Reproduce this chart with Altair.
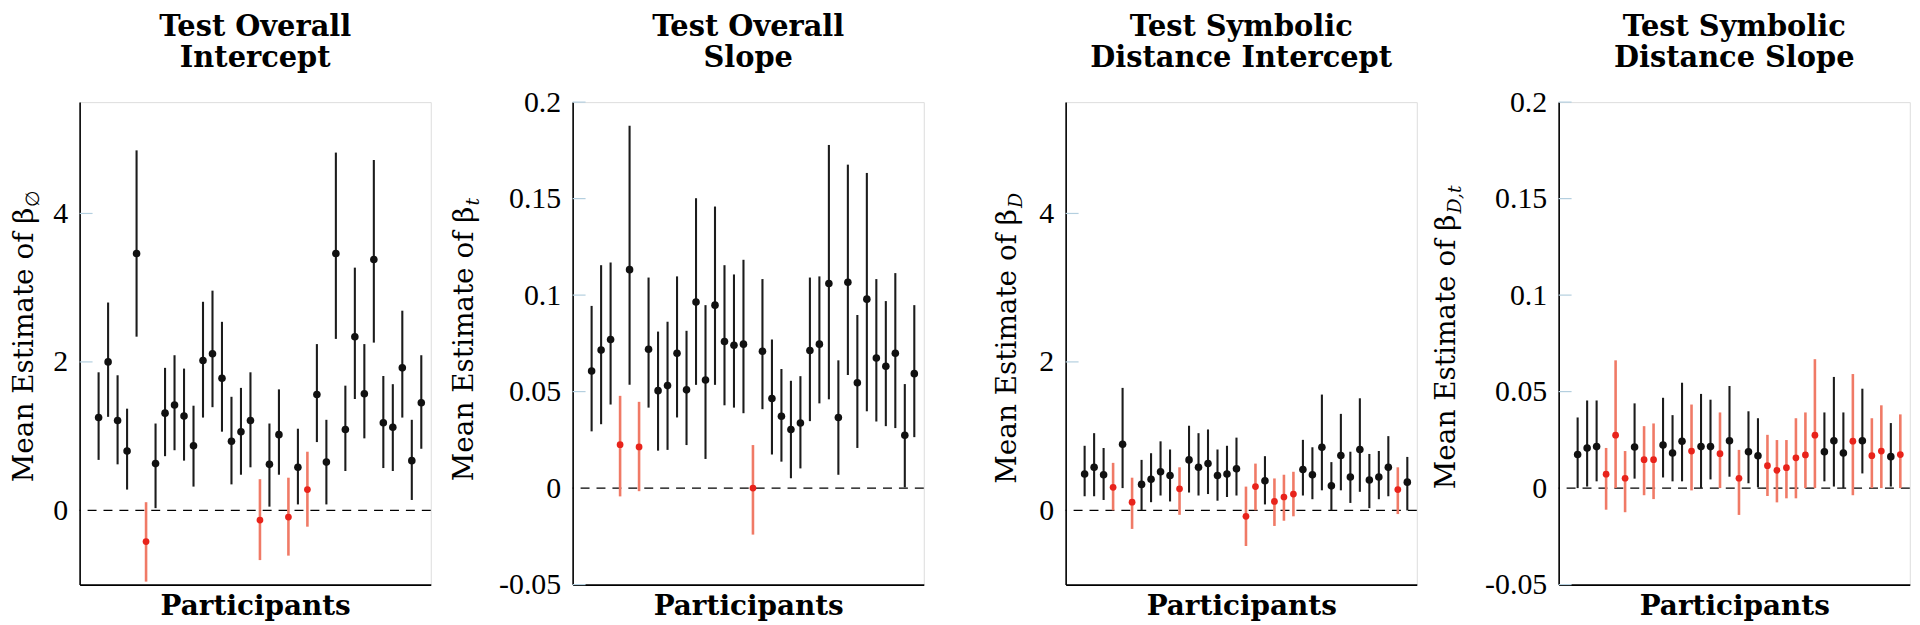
import altair as alt
import pandas as pd

participants = list(range(1, 36))

# Panel 1: Test Overall Intercept
p1_mean = [1.25, 2.00, 1.21, 0.80, 3.46, -0.42, 0.63, 1.31, 1.42, 1.27, 0.87, 2.02, 2.11, 1.78, 0.93, 1.06, 1.21, -0.13,
           0.62, 1.02, -0.09, 0.58, 0.28, 1.56, 0.65, 3.46, 1.09, 2.34, 1.57, 3.38, 1.18, 1.12, 1.92, 0.67, 1.45]
p1_lo = [0.68, 1.26, 0.62, 0.28, 2.34, -0.96, 0.03, 0.73, 0.81, 0.67, 0.32, 1.25, 1.39, 1.06, 0.35, 0.48, 0.58, -0.67,
         0.05, 0.48, -0.61, 0.08, -0.22, 0.92, 0.08, 2.31, 0.53, 1.50, 0.97, 2.26, 0.57, 0.53, 1.25, 0.14, 0.83]
p1_hi = [1.86, 2.80, 1.82, 1.37, 4.85, 0.11, 1.17, 1.92, 2.09, 1.91, 1.41, 2.81, 2.96, 2.54, 1.53, 1.65, 1.86, 0.42,
         1.17, 1.63, 0.44, 1.10, 0.79, 2.24, 1.22, 4.82, 1.68, 3.27, 2.24, 4.72, 1.81, 1.70, 2.69, 1.22, 2.09]
p1_red = [6, 18, 21, 23]

# Panel 2: Test Overall Slope
p2_mean = [0.0607, 0.0715, 0.0770, 0.0225, 0.1132, 0.0213, 0.0719, 0.0505, 0.0531, 0.0699, 0.0509, 0.0964, 0.0560,
           0.0948, 0.0760, 0.0740, 0.0746, 0.0000, 0.0709, 0.0464, 0.0372, 0.0304, 0.0337, 0.0713, 0.0746, 0.1060,
           0.0366, 0.1067, 0.0546, 0.0979, 0.0674, 0.0631, 0.0699, 0.0274, 0.0593]
p2_lo = [0.0294, 0.0331, 0.0433, -0.0043, 0.0535, -0.0016, 0.0417, 0.0194, 0.0198, 0.0366, 0.0223, 0.0535, 0.0151,
         0.0535, 0.0429, 0.0417, 0.0388, -0.0241, 0.0409, 0.0174, 0.0137, 0.0051, 0.0102, 0.0347, 0.0439, 0.0460,
         0.0069, 0.0586, 0.0208, 0.0398, 0.0345, 0.0321, 0.0311, 0.0004, 0.0264]
p2_hi = [0.0944, 0.1155, 0.1169, 0.0478, 0.1878, 0.0447, 0.1091, 0.0811, 0.0862, 0.1097, 0.0815, 0.1502, 0.0948,
         0.1459, 0.1155, 0.1107, 0.1183, 0.0223, 0.1083, 0.0770, 0.0617, 0.0556, 0.0580, 0.1091, 0.1097, 0.1778,
         0.0662, 0.1676, 0.0897, 0.1633, 0.1083, 0.0969, 0.1114, 0.0539, 0.0948]
p2_red = [4, 6, 18]

# Panel 3: Test Symbolic Distance Intercept
p3_mean = [0.49, 0.58, 0.48, 0.31, 0.89, 0.11, 0.35, 0.42, 0.52, 0.47, 0.29, 0.68, 0.58, 0.63, 0.47, 0.49, 0.56, -0.08,
           0.32, 0.40, 0.12, 0.18, 0.22, 0.55, 0.48, 0.85, 0.33, 0.74, 0.45, 0.82, 0.41, 0.45, 0.58, 0.28, 0.38]
p3_lo = [0.19, 0.19, 0.14, 0.00, 0.30, -0.25, 0.00, 0.11, 0.20, 0.12, -0.06, 0.24, 0.20, 0.22, 0.13, 0.18, 0.20, -0.48,
         0.00, 0.08, -0.21, -0.14, -0.08, 0.20, 0.15, 0.27, 0.00, 0.27, 0.10, 0.25, 0.03, 0.15, 0.19, -0.05, 0.00]
p3_hi = [0.87, 1.04, 0.84, 0.64, 1.65, 0.44, 0.68, 0.77, 0.93, 0.82, 0.58, 1.14, 1.04, 1.09, 0.82, 0.87, 0.98, 0.32,
         0.63, 0.73, 0.43, 0.48, 0.52, 0.95, 0.85, 1.56, 0.65, 1.30, 0.79, 1.51, 0.76, 0.80, 1.00, 0.58, 0.72]
p3_red = [4, 6, 11, 18, 19, 21, 22, 23, 34]

# Panel 4: Test Symbolic Distance Slope
p4_mean = [0.0174, 0.0208, 0.0215, 0.0072, 0.0274, 0.0051, 0.0213, 0.0147, 0.0147, 0.0223, 0.0182, 0.0243, 0.0192,
           0.0215, 0.0215, 0.0178, 0.0245, 0.0051, 0.0188, 0.0168, 0.0116, 0.0092, 0.0106, 0.0157, 0.0172, 0.0274,
           0.0188, 0.0245, 0.0182, 0.0243, 0.0245, 0.0168, 0.0192, 0.0163, 0.0174]
p4_lo = [0.0000, 0.0008, 0.0035, -0.0112, 0.0000, -0.0125, 0.0049, -0.0037, -0.0057, 0.0055, 0.0035, 0.0035, -0.0012,
         0.0000, 0.0045, 0.0000, 0.0059, -0.0139, 0.0025, 0.0004, -0.0041, -0.0074, -0.0053, -0.0053, 0.0000, 0.0000,
         0.0035, 0.0008, 0.0000, -0.0037, 0.0076, 0.0000, 0.0000, 0.0008, 0.0000]
p4_hi = [0.0366, 0.0454, 0.0454, 0.0208, 0.0662, 0.0192, 0.0439, 0.0321, 0.0335, 0.0468, 0.0378, 0.0546, 0.0433,
         0.0488, 0.0458, 0.0392, 0.0529, 0.0198, 0.0398, 0.0362, 0.0276, 0.0249, 0.0249, 0.0362, 0.0392, 0.0668,
         0.0392, 0.0576, 0.0392, 0.0591, 0.0515, 0.0362, 0.0429, 0.0337, 0.0382]
p4_red = [4, 5, 6, 8, 9, 13, 16, 18, 21, 22, 23, 24, 25, 26, 30, 32, 33, 35]

titles = [["Test Overall", "Intercept"], ["Test Overall", "Slope"],
          ["Test Symbolic", "Distance Intercept"], ["Test Symbolic", "Distance Slope"]]
ylabel_main = "Mean Estimate of β"
ylabel_subs = ["∅", "t", "D", "D,t"]
x_title = "Participants"

ticks_big = [0, 2, 4]
ticks_small = [-0.05, 0, 0.05, 0.1, 0.15, 0.2]
dom_big = [-1, 5.5]
dom_small = [-0.05, 0.2]

W, H = 353, 485
SERIF = "Liberation Serif"
BOLD = "DejaVu Serif"


def panel(mean, lo, hi, red, dom, ticks, title, sub, label_x, sub_len):
    df = pd.DataFrame({"p": participants, "mean": mean, "lo": lo, "hi": hi,
                       "grp": ["red" if p in red else "black" for p in participants]})
    xscale = alt.Scale(domain=[-1, 36], nice=False, zero=False)
    yscale = alt.Scale(domain=dom, nice=False, zero=False)
    xaxis = alt.Axis(title=x_title, labels=False, ticks=False, grid=False, domainColor="black",
                     domainWidth=1.6, titleFont=BOLD, titleFontSize=28, titleFontWeight="bold",
                     titleColor="black", titlePadding=8)
    yaxis = alt.Axis(title="", values=ticks, grid=False, ticks=False, tickSize=0, labelPadding=12,
                     labelFont=SERIF, labelFontSize=30, labelColor="black",
                     labelExpr="'' + datum.value", domainColor="black", domainWidth=1.6)
    X = alt.X("p:Q", scale=xscale, axis=xaxis)

    bars = alt.Chart(df).mark_rule().encode(
        x=X,
        y=alt.Y("lo:Q", scale=yscale, axis=yaxis),
        y2="hi:Q",
        color=alt.condition("datum.grp == 'red'", alt.value("#f07a66"), alt.value("#1c1c1c")),
        strokeWidth=alt.condition("datum.grp == 'red'", alt.value(2.6), alt.value(2.1)),
    )
    dots = alt.Chart(df).mark_circle(opacity=1).encode(
        x=X,
        y=alt.Y("mean:Q", scale=yscale, axis=yaxis),
        color=alt.condition("datum.grp == 'red'", alt.value("#e8231b"), alt.value("#111111")),
        size=alt.condition("datum.grp == 'red'", alt.value(46), alt.value(58)),
    )
    tdf = pd.DataFrame({"v": [t for t in ticks if t != 0]})
    tickmarks = alt.Chart(tdf).mark_rule(color="#b4cfdf", strokeWidth=1.2).encode(
        y=alt.Y("v:Q", scale=yscale, axis=yaxis), x=alt.value(0), x2=alt.value(13))
    zero = alt.Chart(pd.DataFrame({"z": [0]})).mark_rule(
        color="black", strokeWidth=1.4, strokeDash=[9, 7]).encode(
        y=alt.Y("z:Q", scale=yscale, axis=yaxis))

    layers = [tickmarks, zero, bars, dots]
    # chart title (two lines)
    for i, line in enumerate(title):
        layers.append(alt.Chart(pd.DataFrame({"t": [line]})).mark_text(
            font=BOLD, fontSize=29, fontWeight="bold", color="black", align="center",
            baseline="alphabetic").encode(text="t:N", x=alt.value(W / 2), y=alt.value(-66 + 31 * i)))
    # y-axis label with subscript
    main_len = 283
    y0 = H / 2 - (main_len - sub_len) / 2
    layers.append(alt.Chart(pd.DataFrame({"t": [ylabel_main]})).mark_text(
        font="DejaVu Serif", fontSize=28, color="black", angle=270, align="right",
        baseline="alphabetic").encode(text="t:N", x=alt.value(label_x), y=alt.value(y0)))
    layers.append(alt.Chart(pd.DataFrame({"t": [sub]})).mark_text(
        font="DejaVu Serif", fontSize=19, fontStyle="italic" if sub != "∅" else "normal", color="black",
        angle=270, align="left", baseline="alphabetic").encode(
        text="t:N", x=alt.value(label_x + 6), y=alt.value(y0 - 1)))
    return alt.layer(*layers).properties(width=W, height=H)


c1 = panel(p1_mean, p1_lo, p1_hi, p1_red, dom_big, ticks_big, titles[0], ylabel_subs[0], -47, 10)
c2 = panel(p2_mean, p2_lo, p2_hi, p2_red, dom_small, ticks_small, titles[1], ylabel_subs[1], -100, 8)
c3 = panel(p3_mean, p3_lo, p3_hi, p3_red, dom_big, ticks_big, titles[2], ylabel_subs[2], -50, 13)
c4 = panel(p4_mean, p4_lo, p4_hi, p4_red, dom_small, ticks_small, titles[3], ylabel_subs[3], -104, 24)

chart = alt.hconcat(c1, c2, c3, c4, spacing=142.6, bounds="flush").properties(
    padding={"left": 2, "top": 3, "right": 0, "bottom": 0}
).configure_view(stroke=None).configure(background="white")

chart.save("out.html", embed_options={"renderer": "svg", "actions": False})
